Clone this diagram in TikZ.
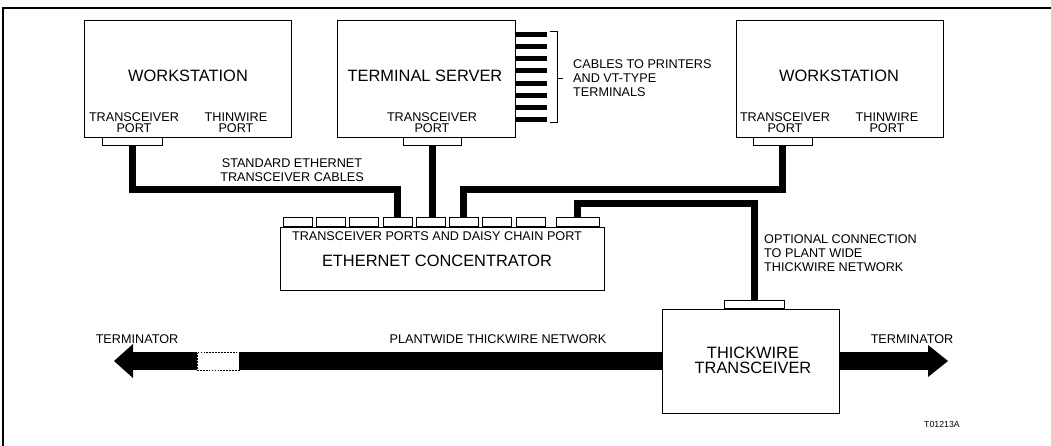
\documentclass[tikz,border=0pt]{standalone}
\usepackage{fontspec}
\setmainfont{Liberation Sans}
\usetikzlibrary{calc}
\newdimen\px \px=0.03cm
\tikzset{
  box/.style={draw, line width=0.8pt, fill=white, inner sep=0pt},
  port/.style={draw, line width=0.6pt, fill=white, inner sep=0pt, minimum height=8\px},
  cable/.style={line width=7\px, line join=miter},
  stub/.style={line width=5\px},
  bus/.style={line width=18\px},
  big/.style={font=\fontsize{14}{12.8}\selectfont, align=center, inner sep=0pt},
  small/.style={font=\fontsize{10.8}{12}\selectfont, align=center, inner sep=0pt},
  portname/.style={font=\fontsize{10.8}{9.6}\selectfont, align=center, inner sep=0pt}
}
\begin{document}
\begin{tikzpicture}[x=0.03cm, y=-0.03cm, line cap=butt]
  \useasboundingbox (0,0) rectangle (1051,446);
  \draw[line width=1.2pt] (3,446) -- (3,8) -- (1051,8);
  % stations
  \node[box, minimum width=207\px, minimum height=117\px] (lws) at (187.5,78.5) {};
  \node[box, minimum width=178\px, minimum height=117\px] (server) at (426,78.5) {};
  \node[box, minimum width=207\px, minimum height=117\px] (rws) at (839.5,78.5) {};
  \node[big] (lwsname) at (188,76) {WORKSTATION};
  \node[big] (servername) at (425,76) {TERMINAL SERVER};
  \node[big] (rwsname) at (839,76) {WORKSTATION};
  \node[portname] (lwstp) at (134,122.5) {TRANSCEIVER\\PORT};
  \node[portname] (lwsthin) at (236,122.5) {THINWIRE\\PORT};
  \node[portname] (servertp) at (432,122.5) {TRANSCEIVER\\PORT};
  \node[portname] (rwstp) at (785,122.5) {TRANSCEIVER\\PORT};
  \node[portname] (rwsthin) at (887,122.5) {THINWIRE\\PORT};
  \node[port, minimum width=60\px, anchor=north] (lport) at (132,137) {};
  \node[port, minimum width=58\px, anchor=north] (sport) at (432,137) {};
  \node[port, minimum width=59\px, anchor=north] (rport) at (782.5,137) {};
  % cables to printers
  \foreach \i in {0,...,7}
    \draw[stub] ($(server.north east)+(0,{15+12.14*\i})$) -- ++(32,0);
  \draw[line width=0.7pt] ($(server.north east)+(35,12)$) -- ++(7,0) -- ++(0,91) -- ++(-7,0);
  \draw[line width=0.7pt] ($(server.north east)+(42,59)$) -- ++(6,0);
  \node[small, align=left, anchor=west] (printers) at (573,78) {CABLES TO PRINTERS\\AND VT-TYPE\\TERMINALS};
  % concentrator
  \node[box, minimum width=324\px, minimum height=63\px] (conc) at (442,258.5) {};
  \foreach \i in {1,...,8}
    \node[port, minimum width=29\px, minimum height=9\px, anchor=south] (c\i) at ({297.5+33.29*(\i-1)},227) {};
  \node[port, minimum width=43\px, minimum height=9\px, anchor=south] (c9) at (577.5,227) {};
  \node[small] (concports) at (437,236) {TRANSCEIVER PORTS AND DAISY CHAIN PORT};
  \node[big] (concname) at (437,261) {ETHERNET CONCENTRATOR};
  % transceiver cables
  \draw[cable] (lport.south) -- ++(0,44) -| (c4.north);
  \draw[cable] (sport.south) -- (sport.south |- c5.north);
  \draw[cable] (rport.south) -- ++(0,44) -| (c6.north);
  \node[small] (stdcables) at (292,170) {STANDARD ETHERNET\\TRANSCEIVER CABLES};
  % thickwire
  \node[box, minimum width=177\px, minimum height=104\px] (thick) at (750.5,361) {};
  \node[big] (thickname) at (753,360.5) {THICKWIRE\\TRANSCEIVER};
  \node[port, minimum width=60\px, anchor=south] (tport) at (754,309) {};
  \draw[cable] (c9.north) -- ++(0,-14) -| (tport.north);
  \node[small, align=left, anchor=west] (optional) at (764,253) {OPTIONAL CONNECTION\\TO PLANT WIDE\\THICKWIRE NETWORK};
  % plantwide bus
  \coordinate (ltip) at (114,361);
  \coordinate (rtip) at (948,361);
  \node[draw, dashed, dash pattern=on 1.5pt off 1pt, line width=0.4pt, fill=white, inner sep=0pt,
        minimum width=42\px, minimum height=18\px] (gap) at (218,361) {};
  \fill (ltip) -- ++(19,-17) -- ++(0,34) -- cycle;
  \fill (rtip) -- ++(-20,-16) -- ++(0,32) -- cycle;
  \draw[bus] ($(ltip)+(19,0)$) -- (gap.west);
  \draw[bus] (gap.east) -- (thick.west);
  \draw[bus] (thick.east) -- ($(rtip)+(-20,0)$);
  \node[small] (lterm) at (137,339) {TERMINATOR};
  \node[small] (rterm) at (912,339) {TERMINATOR};
  \node[small] (plantwide) at (498,339) {PLANTWIDE THICKWIRE NETWORK};
  \node[font=\fontsize{7.5}{9}\selectfont, inner sep=0pt] (figno) at (942,424) {T01213A};
\end{tikzpicture}
\end{document}
